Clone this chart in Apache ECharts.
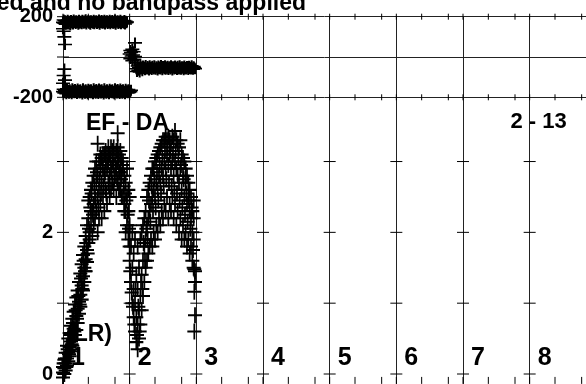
<!DOCTYPE html>
<html><head><meta charset="utf-8">
<script src="https://cdn.jsdelivr.net/npm/echarts@6/dist/echarts.min.js"></script>
<style>html,body{margin:0;padding:0;background:#fff}#c{width:586px;height:384px}</style>
</head><body><div id="c"></div><script>
// ---- tick / label arrays ----
const xMajor = [1, 2, 3, 4, 5, 6, 7, 8];
const xMinorOffset = [0.38, 0.78];
const xMin = 1, xMax = 8.845;
const phaseTicks = [-200, 0, 200];
const phaseLabels = [-200, 200];
const ampTicks = [0, 1, 2, 3];
const ampLabels = [0, 2];
const channelLabels = ['1', '2', '3', '4', '5', '6', '7', '8'];
const titleText = 'ed and no bandpass applied';
const siteLabel = 'EF - DA';
const rangeLabel = '2 - 13';
const modeLabel = '(LR)';

// ---- amplitude (bottom panel) ----
const ampCh1 = [
[1.00,0.02],[1.00,0.10],[1.00,-0.05],
[1.02,0.08],[1.02,0.20],[1.02,0.00],
[1.04,0.15],[1.04,0.30],[1.04,0.05],
[1.06,0.22],[1.06,0.40],[1.06,0.12],
[1.08,0.30],[1.08,0.50],[1.08,0.18],
[1.10,0.38],[1.10,0.58],[1.10,0.25],
[1.12,0.46],[1.12,0.68],[1.12,0.32],
[1.14,0.55],[1.14,0.78],[1.14,0.40],
[1.16,0.64],[1.16,0.88],[1.16,0.48],
[1.18,0.72],[1.18,0.98],[1.18,0.55],
[1.20,0.82],[1.20,1.08],[1.20,0.62],
[1.22,0.92],[1.22,1.18],[1.22,0.72],
[1.24,1.02],[1.24,1.30],[1.24,0.85],
[1.26,1.12],[1.26,1.42],[1.26,0.95],
[1.28,1.25],[1.28,1.55],[1.28,1.05],
[1.30,1.38],[1.30,1.68],[1.30,1.18],
[1.32,1.50],[1.32,1.80],[1.32,1.30],
[1.34,1.62],[1.34,1.95],[1.34,1.45],
[1.36,1.75],[1.36,2.10],[1.36,1.58],
[1.38,1.85],[1.38,2.20],[1.38,2.45],
[1.40,2.00],[1.40,2.50],[1.40,1.90],
[1.42,2.10],[1.42,2.60],[1.42,2.30],
[1.44,2.30],[1.44,2.70],[1.44,1.95],
[1.46,2.40],[1.46,2.80],[1.46,2.10],
[1.48,2.50],[1.48,2.90],[1.48,2.20],
[1.50,2.30],[1.50,2.70],[1.50,3.00],
[1.52,2.50],[1.52,2.80],[1.52,2.00],[1.52,3.25],
[1.54,2.60],[1.54,3.00],[1.54,2.20],
[1.56,2.40],[1.56,2.90],[1.56,3.10],
[1.58,2.70],[1.58,3.05],[1.58,2.20],
[1.60,2.50],[1.60,2.90],[1.60,3.10],
[1.62,2.80],[1.62,3.10],[1.62,2.30],
[1.64,2.60],[1.64,3.00],[1.64,3.15],
[1.66,2.90],[1.66,2.40],[1.66,3.10],
[1.68,2.70],[1.68,3.00],[1.68,3.20],
[1.70,2.80],[1.70,3.10],[1.70,2.50],
[1.72,2.90],[1.72,3.20],[1.72,2.60],
[1.74,2.70],[1.74,3.00],[1.74,3.15],
[1.76,2.95],[1.76,2.60],[1.76,3.20],
[1.78,2.80],[1.78,3.10],[1.82,3.40],
[1.80,2.90],[1.80,3.15],[1.80,2.50],
[1.82,2.70],[1.82,3.00],[1.82,3.20],
[1.84,2.85],[1.84,3.10],[1.84,2.60],
[1.86,2.60],[1.86,2.95],[1.86,3.15],
[1.88,2.80],[1.88,3.05],[1.88,2.50],
[1.90,2.50],[1.90,2.90],[1.90,3.00],
[1.92,2.40],[1.92,2.80],[1.92,2.30],
[1.94,2.30],[1.94,2.70],[1.94,2.00],
[1.96,2.10],[1.96,2.50],[1.96,2.90],
[1.98,1.90],[1.98,2.30],[1.98,2.60],
[2.00,1.80],[2.00,2.10],[2.00,2.50],
[1.01,0.15],[1.03,0.22],[1.05,0.10],[1.07,0.35],[1.09,0.28],[1.11,0.55],[1.13,0.42],
[1.15,0.72],[1.17,0.60],[1.19,0.90],[1.21,0.78],[1.23,1.10],[1.25,0.98],[1.27,1.35],
[1.29,1.20],[1.31,1.60],[1.33,1.45],[1.35,1.85],[1.37,1.70],[1.39,2.05],
[1.41,2.35],[1.43,2.55],[1.45,2.25],[1.47,2.65],[1.49,2.45],[1.51,2.85],[1.53,2.35],
[1.55,2.75],[1.57,2.55],[1.59,2.95],[1.61,2.65],[1.63,2.85],[1.65,2.55],[1.67,2.95],
[1.69,2.65],[1.71,3.05],[1.73,2.85],[1.75,3.05],[1.77,2.75],[1.79,2.95],[1.81,2.75],
[1.83,3.05],[1.85,2.85],[1.87,2.75],[1.89,2.95],[1.91,2.65],[1.93,2.55],[1.95,2.45],
[1.97,2.25],[1.99,2.05]
];
const ampCh2 = [
[2.00,1.60],[2.00,2.00],
[2.02,1.30],[2.02,1.80],
[2.04,1.00],[2.04,1.50],[2.04,2.00],
[2.06,0.80],[2.06,1.20],[2.06,1.70],
[2.08,0.60],[2.08,1.00],[2.08,1.90],
[2.10,0.45],[2.10,0.80],[2.10,1.40],
[2.12,0.35],[2.12,0.70],[2.12,1.20],[2.12,1.80],
[2.14,0.50],[2.14,0.90],[2.14,1.50],
[2.16,0.70],[2.16,1.10],[2.16,1.90],
[2.18,0.90],[2.18,1.40],[2.18,2.00],
[2.20,1.10],[2.20,1.60],[2.20,2.10],
[2.22,1.30],[2.22,1.80],[2.22,2.20],
[2.24,1.50],[2.24,1.90],[2.24,2.30],
[2.26,1.60],[2.26,2.10],[2.26,2.50],
[2.28,1.70],[2.28,2.20],[2.28,2.60],
[2.30,1.80],[2.30,2.30],[2.30,2.70],
[2.32,1.90],[2.32,2.40],[2.32,2.80],
[2.34,1.80],[2.34,2.50],[2.34,2.90],
[2.36,2.00],[2.36,2.60],[2.36,2.90],
[2.38,1.90],[2.38,2.50],[2.38,3.00],
[2.40,2.10],[2.40,2.70],[2.40,3.05],
[2.42,2.00],[2.42,2.60],[2.42,3.10],
[2.44,2.20],[2.44,2.80],[2.44,3.15],
[2.46,2.10],[2.46,2.70],[2.46,3.20],
[2.48,2.30],[2.48,2.90],[2.48,3.25],
[2.50,2.20],[2.50,2.80],[2.50,3.30],
[2.52,2.40],[2.52,3.00],[2.52,3.30],
[2.54,2.30],[2.54,2.90],[2.54,3.35],
[2.56,2.50],[2.56,3.10],[2.56,3.30],
[2.58,2.20],[2.58,2.95],[2.58,3.35],
[2.60,2.40],[2.60,3.10],[2.60,3.30],
[2.62,2.30],[2.62,2.90],[2.62,3.25],
[2.64,2.50],[2.64,3.00],[2.64,3.35],
[2.66,2.20],[2.66,2.80],[2.66,3.30],
[2.68,2.40],[2.68,3.00],[2.68,3.43],
[2.70,2.10],[2.70,2.90],[2.70,3.30],
[2.72,2.30],[2.72,2.80],[2.72,3.25],
[2.74,2.00],[2.74,2.70],[2.74,3.20],
[2.76,2.20],[2.76,2.90],[2.76,3.30],
[2.78,1.90],[2.78,2.60],[2.78,3.10],
[2.80,2.10],[2.80,2.80],[2.80,3.05],
[2.82,1.90],[2.82,2.50],[2.82,3.00],
[2.84,2.00],[2.84,2.70],[2.84,2.90],
[2.86,1.80],[2.86,2.40],[2.86,2.80],
[2.88,1.90],[2.88,2.50],[2.88,2.70],
[2.90,1.70],[2.90,2.30],[2.90,2.60],
[2.92,1.80],[2.92,2.20],[2.92,2.50],
[2.94,1.60],[2.94,2.00],[2.94,2.30],
[2.96,1.50],[2.96,1.90],[2.96,2.20],
[2.97,1.48],[2.98,1.30],[2.97,1.16],[2.98,0.83],[2.97,0.60],[2.98,1.45],
[2.01,1.45],[2.03,1.15],[2.05,0.95],[2.07,0.70],[2.09,1.20],[2.11,0.55],[2.13,0.95],
[2.15,0.60],[2.17,1.30],[2.19,1.20],[2.21,1.85],[2.23,1.60],[2.25,2.05],[2.27,1.90],
[2.29,2.45],[2.31,2.15],[2.33,2.65],[2.35,2.30],[2.37,2.75],[2.39,2.35],[2.41,2.85],
[2.43,2.45],[2.45,2.95],[2.47,2.55],[2.49,3.05],[2.51,2.65],[2.53,3.15],[2.55,2.75],
[2.57,3.20],[2.59,2.70],[2.61,3.15],[2.63,2.65],[2.65,3.10],[2.67,2.60],[2.69,3.15],
[2.71,2.55],[2.73,3.05],[2.75,2.45],[2.77,2.95],[2.79,2.35],[2.81,2.75],[2.83,2.25],
[2.85,2.55],[2.87,2.15],[2.89,2.45],[2.91,2.05],[2.93,2.35],[2.95,1.75],[2.96,2.45]
];

// ---- phase (top panel) ----
const phaseCh1Upper = [
[1.00,140],[1.01,128],[1.02,100],[1.03,62],[1.00,172],[1.01,184],
[1.02,168],[1.03,180],[1.04,163],[1.05,176],[1.06,170],[1.07,183],
[1.08,166],[1.09,178],[1.10,172],[1.11,160],[1.12,181],[1.13,169],
[1.14,176],[1.15,164],[1.16,184],[1.17,171],[1.18,177],[1.19,166],
[1.20,180],[1.21,170],[1.22,175],[1.23,163],[1.24,182],[1.25,168],
[1.26,178],[1.27,171],[1.28,165],[1.29,183],[1.30,174],[1.31,167],
[1.32,179],[1.33,170],[1.34,185],[1.35,164],[1.36,176],[1.37,172],
[1.38,181],[1.39,167],[1.40,177],[1.41,163],[1.42,180],[1.43,171],
[1.44,175],[1.45,168],[1.46,183],[1.47,165],[1.48,178],[1.49,172],
[1.50,180],[1.51,166],[1.52,176],[1.53,170],[1.54,184],[1.55,163],
[1.56,177],[1.57,171],[1.58,181],[1.59,167],[1.60,175],[1.61,169],
[1.62,182],[1.63,164],[1.64,178],[1.65,172],[1.66,180],[1.67,166],
[1.68,176],[1.69,170],[1.70,183],[1.71,165],[1.72,178],[1.73,171],
[1.74,181],[1.75,167],[1.76,175],[1.77,169],[1.78,184],[1.79,163],
[1.80,177],[1.81,172],[1.82,180],[1.83,166],[1.84,176],[1.85,170],
[1.86,182],[1.87,165],[1.88,178],[1.89,171],[1.90,175],[1.91,168],
[1.92,181],[1.93,164],[1.94,177],[1.95,170],[1.96,174]
];
const phaseCh1Lower = [
[1.00,-130],[1.01,-92],[1.02,-60],[1.03,-115],[1.00,-172],[1.01,-160],
[1.02,-178],[1.03,-165],[1.04,-170],[1.05,-182],[1.06,-158],[1.07,-174],
[1.08,-166],[1.09,-180],[1.10,-162],[1.11,-175],[1.12,-169],[1.13,-183],
[1.14,-157],[1.15,-172],[1.16,-165],[1.17,-178],[1.18,-161],[1.19,-176],
[1.20,-168],[1.21,-181],[1.22,-159],[1.23,-173],[1.24,-166],[1.25,-179],
[1.26,-163],[1.27,-175],[1.28,-170],[1.29,-184],[1.30,-158],[1.31,-172],
[1.32,-167],[1.33,-180],[1.34,-162],[1.35,-176],[1.36,-169],[1.37,-182],
[1.38,-160],[1.39,-174],[1.40,-165],[1.41,-178],[1.42,-163],[1.43,-177],
[1.44,-170],[1.45,-183],[1.46,-157],[1.47,-173],[1.48,-166],[1.49,-180],
[1.50,-161],[1.51,-175],[1.52,-168],[1.53,-181],[1.54,-159],[1.55,-172],
[1.56,-165],[1.57,-179],[1.58,-162],[1.59,-176],[1.60,-170],[1.61,-184],
[1.62,-158],[1.63,-174],[1.64,-167],[1.65,-180],[1.66,-163],[1.67,-175],
[1.68,-169],[1.69,-182],[1.70,-160],[1.71,-173],[1.72,-166],[1.73,-178],
[1.74,-162],[1.75,-177],[1.76,-170],[1.77,-183],[1.78,-157],[1.79,-172],
[1.80,-165],[1.81,-179],[1.82,-161],[1.83,-176],[1.84,-168],[1.85,-181],
[1.86,-159],[1.87,-174],[1.88,-166],[1.89,-180],[1.90,-163],[1.91,-175],
[1.92,-170],[1.93,-182],[1.94,-160],[1.95,-173],[1.96,-167],[1.97,-178],
[1.98,-162],[1.99,-176],[2.00,-169],[2.01,-172],[2.02,-165]
];
const phaseCh2 = [
[2.00,15],[2.01,32],[2.01,-8],[2.02,22],[2.03,5],[2.04,38],[2.04,-18],[2.05,10],
[2.06,26],[2.07,-12],[2.08,70],[2.08,2],[2.09,-28],[2.10,-58],[2.11,-72],[2.12,-45],
[2.13,-66],[2.14,-52],[2.15,-74],[2.16,-42],[2.17,-60],[2.18,-50],[2.19,-68],
[2.20,-45],[2.21,-58],[2.22,-50],[2.23,-63],[2.24,-42],[2.25,-55],[2.26,-60],[2.27,-47],
[2.28,-53],[2.29,-65],[2.30,-44],[2.31,-57],[2.32,-51],[2.33,-62],[2.34,-46],[2.35,-54],
[2.36,-59],[2.37,-43],[2.38,-56],[2.39,-61],[2.40,-48],[2.41,-53],[2.42,-64],[2.43,-45],
[2.44,-57],[2.45,-50],[2.46,-60],[2.47,-42],[2.48,-55],[2.49,-63],[2.50,-47],[2.51,-52],
[2.52,-58],[2.53,-44],[2.54,-61],[2.55,-50],[2.56,-56],[2.57,-46],[2.58,-62],[2.59,-53],
[2.60,-48],[2.61,-59],[2.62,-43],[2.63,-55],[2.64,-64],[2.65,-49],[2.66,-54],[2.67,-60],
[2.68,-45],[2.69,-57],[2.70,-51],[2.71,-62],[2.72,-46],[2.73,-55],[2.74,-59],[2.75,-44],
[2.76,-53],[2.77,-61],[2.78,-48],[2.79,-56],[2.80,-50],[2.81,-63],[2.82,-45],[2.83,-58],
[2.84,-52],[2.85,-60],[2.86,-47],[2.87,-54],[2.88,-62],[2.89,-46],[2.90,-57],[2.91,-51],
[2.92,-59],[2.93,-44],[2.94,-55],[2.95,-61],[2.96,-48],[2.97,-53],[2.98,-58]
];

// ---- build ----
const FONT = '"Liberation Sans", Arial, Helvetica, sans-serif';
const PLUS = 'path://M0,5L10,5M5,0L5,10';
const ampMin = -0.14, ampMax = 3.907;

const xAll = [];
xMajor.forEach(x => { xAll.push(x); xMinorOffset.forEach(o => { if (x + o <= xMax) xAll.push(x + o); }); });

const topTicks = [];
xAll.forEach(x => { topTicks.push([x, 200, 0]); topTicks.push([x, -200, 0]); });
phaseTicks.forEach(y => topTicks.push([xMin, y, 1]));

const botTicks = [];
xMajor.forEach(x => ampTicks.forEach(y => botTicks.push([x, y, 1])));
xAll.forEach(x => botTicks.push([x, ampMin, 2]));

function tickRender(params, api) {
  const p = api.coord([api.value(0), api.value(1)]);
  const t = api.value(2);
  let s;
  if (t === 0) s = {x1: p[0], y1: p[1] - 3, x2: p[0], y2: p[1] + 3};
  else if (t === 1) s = {x1: p[0] - 6, y1: p[1], x2: p[0] + 6, y2: p[1]};
  else s = {x1: p[0], y1: p[1] - 7, x2: p[0], y2: p[1]};
  return {type: 'line', shape: s, style: {stroke: '#000', lineWidth: 1}};
}

function scatter(data, xi, yi, size, lw) {
  return {
    type: 'scatter', xAxisIndex: xi, yAxisIndex: yi, data: data,
    symbol: PLUS, symbolSize: size, clip: false, z: 3,
    itemStyle: {color: '#000', borderColor: '#000', borderWidth: lw, opacity: 1},
    emphasis: {disabled: true}, silent: true
  };
}

const lineCol = '#222';
const chart = echarts.init(document.getElementById('c'), null, {renderer: 'canvas'});
chart.setOption({
  animation: false,
  backgroundColor: '#fff',
  grid: [
    {left: 63, top: 16.7, right: 0, height: 80.6, show: false},
    {left: 63, top: 97.3, right: 0, height: 288.7, show: false}
  ],
  xAxis: [
    {gridIndex: 0, type: 'value', min: xMin, max: xMax, interval: 1,
     axisLine: {show: false}, axisTick: {show: false}, axisLabel: {show: false},
     splitLine: {show: true, lineStyle: {color: lineCol, width: 1}}},
    {gridIndex: 1, type: 'value', min: xMin, max: xMax, interval: 1,
     axisLine: {show: false}, axisTick: {show: false},
     axisLabel: {inside: true, margin: 13, align: 'left', padding: [0, 0, 0, 8],
       interval: 0, hideOverlap: false, showMaxLabel: false, showMinLabel: true,
       fontFamily: FONT, fontWeight: 'bold', fontSize: 25, color: '#000',
       formatter: v => (Number.isInteger(v) && v >= 1 && v <= channelLabels.length) ? channelLabels[v - 1] : ''},
     splitLine: {show: true, lineStyle: {color: lineCol, width: 1}}}
  ],
  yAxis: [
    {gridIndex: 0, type: 'value', min: -200, max: 200, interval: 200,
     axisLine: {show: false}, axisTick: {show: false},
     axisLabel: {margin: 10, fontFamily: FONT, fontWeight: 'bold', fontSize: 20, color: '#000',
       showMinLabel: true, showMaxLabel: true,
       formatter: v => phaseLabels.indexOf(v) >= 0 ? String(v) : ''},
     splitLine: {show: true, lineStyle: {color: lineCol, width: 1}}},
    {gridIndex: 1, type: 'value', min: ampMin, max: ampMax,
     axisLine: {show: false}, axisTick: {show: false},
     axisLabel: {margin: 10, fontFamily: FONT, fontWeight: 'bold', fontSize: 20, color: '#000',
       customValues: ampLabels,
       formatter: v => ampLabels.indexOf(v) >= 0 ? String(v) : ''},
     splitLine: {show: false}}
  ],
  graphic: [
    {type: 'text', x: 306, y: 4, z: 0, style: {text: titleText, font: 'bold 23px ' + FONT, fill: '#000', align: 'right', verticalAlign: 'middle'}},
    {type: 'text', x: 86, y: 124, z: 0, style: {text: siteLabel, font: 'bold 23px ' + FONT, fill: '#000', align: 'left', verticalAlign: 'middle'}},
    {type: 'text', x: 510.5, y: 121.5, z: 0, style: {text: rangeLabel, font: 'bold 22px ' + FONT, fill: '#000', align: 'left', verticalAlign: 'middle'}},
    {type: 'text', x: 66, y: 335, z: 0, style: {text: modeLabel, font: 'bold 23px ' + FONT, fill: '#000', align: 'left', verticalAlign: 'middle'}}
  ],
  series: [
    {type: 'custom', xAxisIndex: 0, yAxisIndex: 0, data: topTicks, renderItem: tickRender, clip: false, silent: true, z: 2},
    {type: 'custom', xAxisIndex: 1, yAxisIndex: 1, data: botTicks, renderItem: tickRender, clip: false, silent: true, z: 2},
    scatter(phaseCh1Upper, 0, 0, [14, 11], 1.8),
    scatter(phaseCh1Lower, 0, 0, [14, 11], 1.8),
    scatter(phaseCh2, 0, 0, [14, 11], 1.8),
    scatter(ampCh1, 1, 1, [14, 16], 1.9),
    scatter(ampCh2, 1, 1, [14, 16], 1.9)
  ]
});
</script></body></html>
